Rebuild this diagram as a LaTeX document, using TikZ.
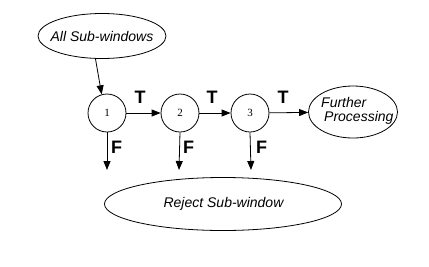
\documentclass[tikz,border=0pt]{standalone}
\usepackage{fontspec}
\setmainfont{Liberation Sans}
\newfontfamily\serifnum{Liberation Serif}
\usetikzlibrary{shapes.geometric,arrows.meta}
\begin{document}
\begin{tikzpicture}[x=1pt,y=-1pt,
  ell/.style={draw, ellipse, inner sep=0pt, line width=0.8pt},
  txt/.style={inner sep=0pt, font=\fontsize{14}{16}\selectfont\itshape},
  stage/.style={draw, circle, minimum size=38pt, inner sep=0pt, line width=0.8pt, font=\serifnum\fontsize{11}{13}\selectfont},
  arr/.style={line width=0.8pt, -{Triangle[length=9pt,width=7pt]}},
  lab/.style={inner sep=0pt, anchor=base, font=\fontsize{18}{20}\selectfont\bfseries}]
\useasboundingbox (0,0) rectangle (429,266);
\fill[white] (0,0) rectangle (429,266);
% ellipses
\node[ell, minimum width=128pt, minimum height=45pt] (all) at (102,36) {};
\node[txt] (alltext) at (102,36) {All Sub-windows};
\node[ell, minimum width=89pt, minimum height=52pt] (fp) at (353,112) {};
\node[txt, anchor=base west] (fp1) at (321,107) {Further};
\node[txt, anchor=base west] (fp2) at (324,121) {Processing};
\node[ell, minimum width=237pt, minimum height=53pt] (rej) at (223,204) {};
\node[txt] (rejtext) at (223.5,204) {Reject Sub-window};
% stages
\node[stage] (s1) at (107,113) {1};
\node[stage] (s2) at (180,113) {2};
\node[stage] (s3) at (250,113) {3};
% connectors
\draw[arr] (all.254) -- (s1.106);
\draw[arr] (s1) -- (s2);
\draw[arr] (s2) -- (s3);
\draw[arr] (s3) -- (fp);
\coordinate (f1) at (107,170);
\coordinate (f2) at (179,170);
\coordinate (f3) at (251,170);
\draw[arr] (s1.south) -- (f1);
\draw[arr] (s2.south) -- (f2);
\draw[arr] (s3.south) -- (f3);
% labels
\node[lab] (t1) at (140,103) {T};
\node[lab] (t2) at (212,103) {T};
\node[lab] (t3) at (283,103) {T};
\node[lab] (fl1) at (116.5,153) {F};
\node[lab] (fl2) at (188.5,153) {F};
\node[lab] (fl3) at (261.5,153) {F};
\end{tikzpicture}
\end{document}
